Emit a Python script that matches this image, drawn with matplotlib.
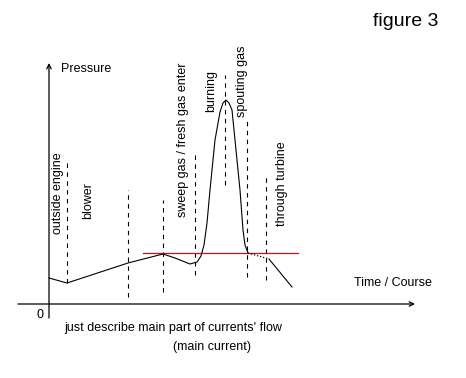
import matplotlib
matplotlib.use("Agg")
import matplotlib.pyplot as plt

# sketch values, origin of the axes = (0, 0)
time_main = [0, 18, 79, 114, 126, 141, 148, 152, 155, 158, 161, 166, 171, 174, 177,
             180, 183, 186, 191, 194, 196, 199]
pressure_main = [26, 21, 41, 50, 46, 40, 42, 48, 59, 81, 114, 164, 192, 201, 204,
                 201, 194, 164, 114, 74, 59, 51]
time_dotted = [199, 220]
pressure_dotted = [51, 45]
time_tail = [220, 243]
pressure_tail = [45, 17]

ref_time = [94, 249]
ref_pressure = 51

# phase boundaries: time, top, bottom
phase_time = [18, 79, 114, 146, 176, 198, 217]
phase_top = [141, 114, 104, 149, 229, 184, 129]
phase_bottom = [21, 7, 12, 29, 119, 27, 24]

phase_labels = ["outside engine", "blower", "sweep gas / fresh gas enter",
                "burning", "spouting gas", "through turbine"]
label_time = [9, 39, 134, 162, 193, 233]
label_pressure = [111, 103, 164, 213, 223, 120]

plt.rcParams['font.family'] = ['Liberation Sans', 'DejaVu Sans']

fig = plt.figure(figsize=(4.66, 3.78), dpi=100)
ax = fig.add_axes([0, 0, 1, 1])
ax.set_xlim(-49, 417)
ax.set_ylim(-74, 304)
ax.axis("off")

# axes with arrows
ax.annotate("", xy=(0, 241), xytext=(0, -14),
            arrowprops=dict(arrowstyle="->", lw=0.9, color="black", shrinkA=0, shrinkB=0,
                            mutation_scale=8))
ax.annotate("", xy=(366, 0), xytext=(-31, 0),
            arrowprops=dict(arrowstyle="->", lw=0.9, color="black", shrinkA=0, shrinkB=0,
                            mutation_scale=8))

# dashed phase boundaries
for t, top, bot in zip(phase_time, phase_top, phase_bottom):
    ax.plot([t, t], [bot, top], color="black", lw=0.8, linestyle=(0, (4, 4)))

ax.plot(ref_time, [ref_pressure, ref_pressure], color="#d01010", lw=0.9)

ax.plot(time_main, pressure_main, color="black", lw=0.8)
ax.plot(time_dotted, pressure_dotted, color="black", lw=0.9, linestyle=(0, (1, 1.5)))
ax.plot(time_tail, pressure_tail, color="black", lw=0.8)

for lab, t, p in zip(phase_labels, label_time, label_pressure):
    ax.text(t, p, lab, rotation=90, ha="center", va="center", fontsize=9)

ax.text(12, 235, "Pressure", ha="left", va="center", fontsize=9)
ax.text(344, 21, "Time / Course", ha="center", va="center", fontsize=9)
ax.text(-9, -11, "0", ha="center", va="center", fontsize=9)
ax.text(124, -24, "just describe main part of currents' flow", ha="center", va="center",
        fontsize=9)
ax.text(163, -43, "(main current)", ha="center", va="center", fontsize=9)
ax.text(357, 282, "figure 3", ha="center", va="center", fontsize=14)

fig.savefig("out.png", dpi=100)
